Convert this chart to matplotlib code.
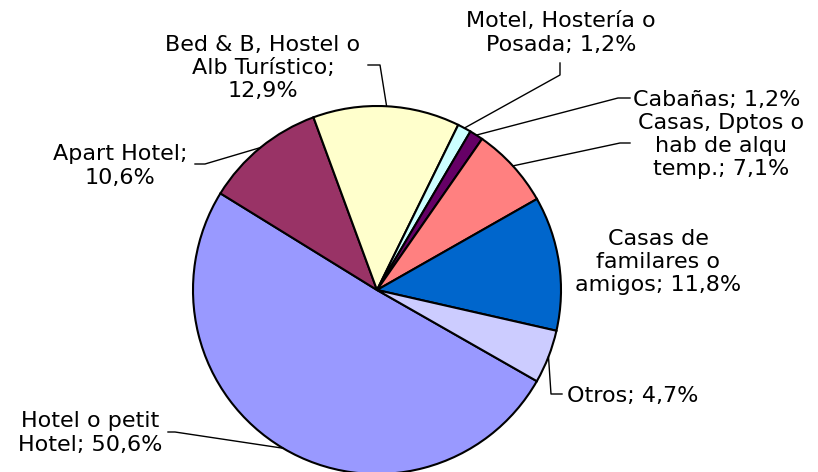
import numpy as np
import matplotlib.pyplot as plt

# datos (orden horario, empezando por Hotel)
categorias = ["Hotel o petit\nHotel", "Apart Hotel;\n", "Bed & B, Hostel o\nAlb Turístico;\n",
              "Motel, Hostería o\nPosada", "Cabañas", "Casas, Dptos o\nhab de alqu\ntemp.",
              "Casas de\nfamilares o\namigos", "Otros"]
valores = [50.6, 10.6, 12.9, 1.2, 1.2, 7.1, 11.8, 4.7]
colores = ["#9999FF", "#993366", "#FFFFCC", "#CCFFFF", "#660066", "#FF8080", "#0066CC", "#CCCCFF"]

W, H = 818, 472
cx, cy, R = 377, H - 290, 184

# posiciones de etiquetas (px, y desde arriba) y codos de las lineas guia
lab_pos = [(90, 433), (120, 166), (263, 68), (561, 33), (633, 100), (721, 146), (658, 262), (567, 396)]
lab_ha = ["center", "center", "center", "center", "left", "center", "center", "left"]
codos = [[(175, 432), (168, 432)], [(205, 164), (195, 164)], [(380, 65), (368, 65)],
         [(560, 75), (560, 63)], [(618, 98), (630, 98)], [(620, 143), (630, 143)],
         None, [(551, 394), (562, 394)]]
start = -29.7

fig = plt.figure(figsize=(8.18, 4.72), dpi=100)
ax = fig.add_axes([0, 0, 1, 1])
wedges, _ = ax.pie(valores, colors=colores, startangle=start, counterclock=False,
                   center=(cx, cy), radius=R, frame=True,
                   wedgeprops=dict(edgecolor="black", linewidth=1.5))
ax.set_xlim(0, W)
ax.set_ylim(0, H)
ax.set_aspect("equal")
ax.axis("off")

for i, (cat, v) in enumerate(zip(categorias, valores)):
    w = wedges[i]
    ang = np.deg2rad((w.theta1 + w.theta2) / 2)
    pct = f"{v:.1f}%".replace(".", ",")
    if cat.endswith("\n"):
        txt = cat + pct
    else:
        txt = cat + "; " + pct
    x, y = lab_pos[i]
    ax.text(x, H - y, txt, ha=lab_ha[i], va="center", fontsize=16,
            linespacing=1.2, color="black")
    if codos[i] is not None:
        px = [cx + R * np.cos(ang)] + [p[0] for p in codos[i]]
        py = [cy + R * np.sin(ang)] + [H - p[1] for p in codos[i]]
        ax.plot(px, py, color="black", lw=1)

fig.savefig("out.png", dpi=100)
